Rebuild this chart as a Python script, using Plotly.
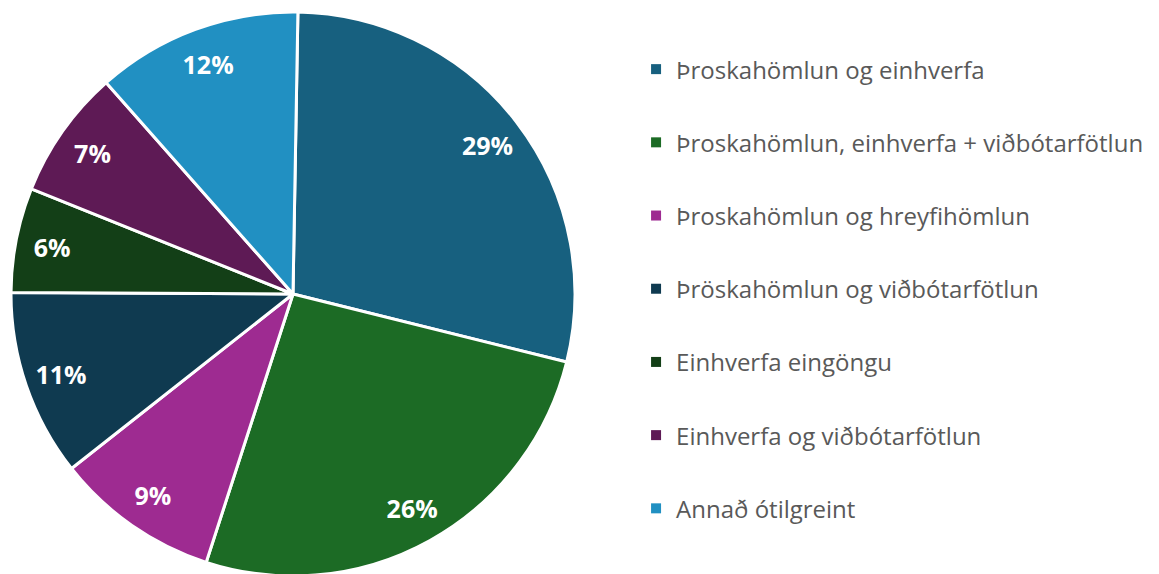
import plotly.graph_objects as go

categories = [
    "Þroskahömlun og einhverfa",
    "Þroskahömlun, einhverfa + viðbótarfötlun",
    "Þroskahömlun og hreyfihömlun",
    "Þröskahömlun og viðbótarfötlun",
    "Einhverfa eingöngu",
    "Einhverfa og viðbótarfötlun",
    "Annað ótilgreint",
]
values = [28.6, 26.1, 9.4, 10.7, 6.0, 7.4, 11.8]
colors = ["#17607F", "#1C6B25", "#9E2B91", "#0F3A50", "#133F17", "#5E1A55", "#2190C2"]

pie_domain = dict(x=[0.00259, 0.4892], y=[0.01045, 0.99303])

fig = go.Figure()
fig.add_trace(go.Pie(
    labels=categories, values=values, sort=False, direction="clockwise",
    rotation=1,
    marker=dict(colors=colors, line=dict(color="white", width=3)),
    textinfo="none",
    showlegend=False, hoverinfo="label+percent",
    domain=pie_domain,
))
# transparent ring used only to place the percentage labels near the rim
fig.add_trace(go.Pie(
    labels=categories, values=values, sort=False, direction="clockwise",
    rotation=1, hole=0.74,
    marker=dict(colors=["rgba(0,0,0,0)"] * len(values), line=dict(width=0)),
    texttemplate="%{percent:.0%}", textposition="inside",
    insidetextorientation="horizontal",
    textfont=dict(family="Open Sans", size=25, color="white", weight="bold"),
    showlegend=False, hoverinfo="skip",
    domain=pie_domain,
))

for i, (c, col) in enumerate(zip(categories, colors)):
    fig.add_trace(go.Scatter(
        x=[None], y=[None], mode="markers", name=c, legendgroup=f"g{i}",
        marker=dict(symbol="square", size=10, color=col),
    ))

fig.update_layout(
    width=1159, height=574,
    margin=dict(l=0, r=0, t=0, b=0),
    paper_bgcolor="white", plot_bgcolor="white",
    xaxis=dict(visible=False), yaxis=dict(visible=False),
    legend=dict(
        x=0.5419, y=0.932, xanchor="left", yanchor="top",
        font=dict(family="Open Sans", size=24, color="#595959"),
        tracegroupgap=39, itemwidth=30,
    ),
)

fig.write_html("out.html")
